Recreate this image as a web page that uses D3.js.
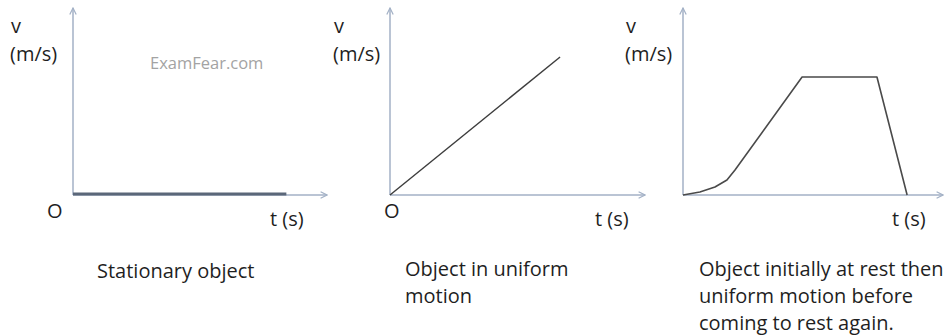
<!DOCTYPE html>
<html>
<head>
<meta charset="utf-8">
<script src="https://cdn.jsdelivr.net/npm/d3@7"></script>
<style>
  body { margin: 0; background: #fff; }
  text { font-family: "Open Sans", Lato, sans-serif; fill: #1f1f1f; }
</style>
</head>
<body>
<svg id="chart"></svg>
<script>
// v-t data for each panel (t and v in arbitrary units, axes run 0..10)
const stationaryT = [0, 8.4];
const stationaryV = [0, 0];
const uniformT = [0, 6.67];
const uniformV = [0, 7.46];
const restT = [0, 0.65, 1.23, 1.69, 2.0, 4.58, 7.46, 8.62];
const restV = [0, 0.16, 0.43, 0.81, 1.35, 6.38, 6.38, 0];
const captions = [
  ['Stationary object'],
  ['Object in uniform', 'motion'],
  ['Object initially at rest then', 'uniform motion before', 'coming to rest again.']
];

const W = 945, H = 335;
const $svg = d3.select('#chart').attr('width', W).attr('height', H);

const defs = $svg.append('defs');
defs.append('marker')
  .attr('id', 'arrow')
  .attr('viewBox', '0 0 10 10')
  .attr('refX', 9).attr('refY', 5)
  .attr('markerWidth', 8).attr('markerHeight', 8)
  .attr('markerUnits', 'userSpaceOnUse')
  .attr('orient', 'auto')
  .append('path')
  .attr('d', 'M1,1 L9,5 L1,9')
  .attr('fill', 'none')
  .attr('stroke', '#a3b1c6')
  .attr('stroke-width', 1.5);

const panels = [
  { x0: 73, x1: 327, t: stationaryT, v: stationaryV, lineW: 3, lineC: '#5b6779',
    vx: 10, origin: [47, 218], tx: 270, capX: 97, capY: 278 },
  { x0: 390, x1: 645, t: uniformT, v: uniformV, lineW: 1.4, lineC: '#3d3d3d',
    vx: 333, origin: [384, 218], tx: 595, capX: 405, capY: 276 },
  { x0: 683, x1: 943, t: restT, v: restV, lineW: 1.6, lineC: '#4a4a4a',
    vx: 625, origin: null, tx: 892, capX: 699, capY: 276 }
];

const y0 = 195, yTop = 10, fs = 20;

panels.forEach((p, i) => {
  const xScale = d3.scaleLinear().domain([0, 10]).range([p.x0, p.x1]);
  const yScale = d3.scaleLinear().domain([0, 10]).range([y0, yTop]);
  const g = $svg.append('g');

  // axes without ticks, arrowheads at ends
  g.append('g')
    .attr('transform', 'translate(' + p.x0 + ',0)')
    .call(d3.axisLeft(yScale).tickValues([]).tickSizeOuter(0))
    .call((a) => a.select('.domain')
      .attr('stroke', '#a3b1c6').attr('stroke-width', 1.5)
      .attr('d', 'M0,' + y0 + 'V' + (yTop - 2))
      .attr('marker-end', 'url(#arrow)'));
  g.append('g')
    .attr('transform', 'translate(0,' + y0 + ')')
    .call(d3.axisBottom(xScale).tickValues([]).tickSizeOuter(0))
    .call((a) => a.select('.domain')
      .attr('stroke', '#a3b1c6').attr('stroke-width', 1.5)
      .attr('d', 'M' + p.x0 + ',0H' + p.x1)
      .attr('marker-end', 'url(#arrow)'));

  const pts = p.t.map((t, k) => [t, p.v[k]]);
  g.append('path')
    .datum(pts)
    .attr('fill', 'none')
    .attr('stroke', p.lineC)
    .attr('stroke-width', p.lineW)
    .attr('stroke-linejoin', 'round')
    .attr('d', d3.line().x((d) => xScale(d[0])).y((d) => yScale(d[1]) - (i === 0 ? 1 : 0)));

  g.append('text').text('v').attr('x', p.vx + 1).attr('y', 33).attr('font-size', fs);
  g.append('text').text('(m/s)').attr('x', p.vx).attr('y', 61).attr('font-size', fs);
  if (p.origin) {
    g.append('text').text('O').attr('x', p.origin[0]).attr('y', p.origin[1]).attr('font-size', fs);
  }
  g.append('text').text('t (s)').attr('x', p.tx).attr('y', 226).attr('font-size', fs);

  captions[i].forEach((line, k) => {
    g.append('text').text(line)
      .attr('x', p.capX).attr('y', p.capY + k * 27)
      .attr('font-size', fs);
  });
});

$svg.append('text')
  .text('ExamFear.com')
  .attr('x', 150).attr('y', 69)
  .attr('font-size', 16.5)
  .style('fill', '#a3a3a3');
</script>
</body>
</html>
